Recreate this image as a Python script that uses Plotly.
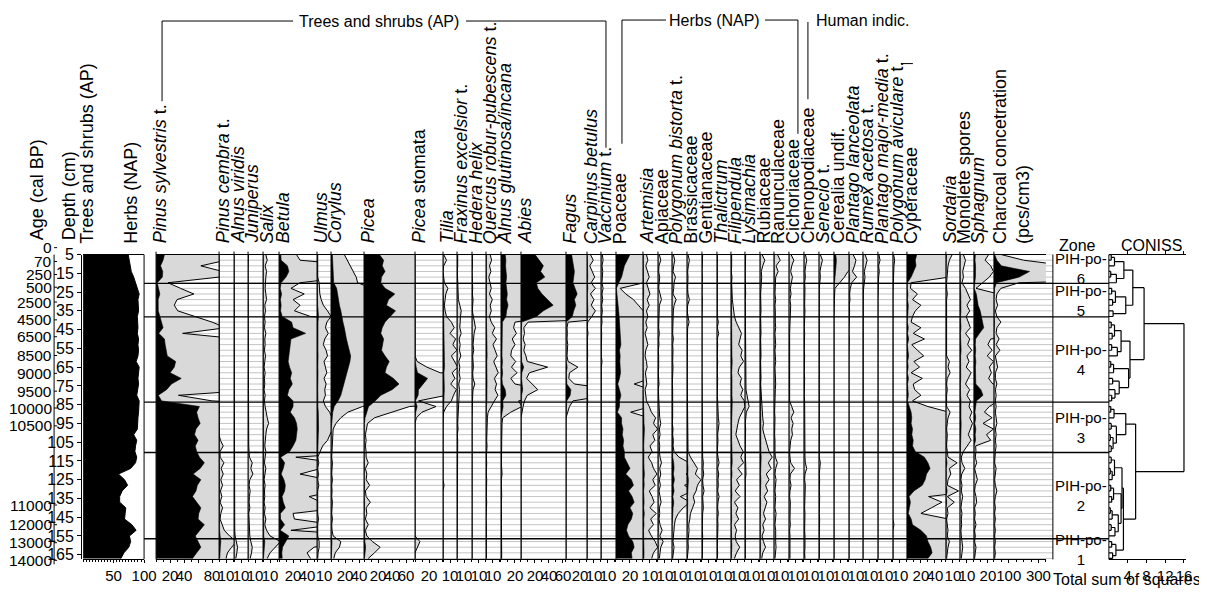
import plotly.graph_objects as go

W, H = 1207, 593          # target picture size
FONT = "Liberation Sans, Arial, Helvetica, sans-serif"
GREY = "#d9d9d9"
LINEGREY = "#c4c4c4"

# ---------------- data ----------------
depth = [5, 8, 11, 14, 17, 20, 23, 26, 29, 32, 35, 38, 41, 44, 47, 50, 53, 56, 59, 62,
         65, 68, 71, 74, 77, 80, 83, 86, 89, 92, 95, 98, 101, 104, 107, 110, 113, 116,
         119, 122, 125, 128, 131, 134, 137, 140, 143, 146, 149, 152, 155, 158, 161, 164, 167]

depth_ticks = [5, 15, 25, 35, 45, 55, 65, 75, 85, 95, 105, 115, 125, 135, 145, 155, 165]
age_labels = ["0", "70", "250", "500", "2500", "4500", "6500", "8500", "9000", "9500",
              "10000", "10500", "11000", "12000", "13000", "14000"]
age_depths = [1.3, 8.7, 15.6, 22.4, 30.3, 39.8, 48.8, 58.8, 68.3, 77.8, 86.8, 96.3,
              138.5, 149.0, 158.6, 168.0]

zone_bounds = [20.3, 38.2, 83.6, 110.5, 156.5]
zone_names = ["6", "5", "4", "3", "2", "1"]

trees_shrubs_ap = [74, 76, 78, 79, 83, 86,
                   90, 92, 90, 90, 91, 89,
                   90, 90, 89, 91, 90, 91, 90, 87, 92, 91, 90, 91, 90, 88, 92,
                   92, 91, 90, 90, 89, 83, 88, 86, 85,
                   88, 86, 78, 58, 68, 73, 64, 60, 60, 70, 69, 68, 80, 87, 76,
                   78, 75, 67, 62]

pinus_sylvestris = [12, 10, 6.4, 9.5, 9, 1.7,
                    3.5, 5.4, 3.0, 2.6, 3.1, 5.5,
                    8, 10, 3.8, 12, 13, 14, 16, 28, 26, 20, 36, 22, 15, 3.2, 8,
                    62, 58, 60, 63, 57, 55, 60, 56, 58,
                    62, 69, 63, 53, 64, 59, 57, 52, 58, 64, 61, 60, 69, 63, 56,
                    60, 64, 58, 52]
pinus_cembra = [0, 0, 0.1, 0, 0, 0,
                0, 0, 0, 0.1, 0, 0,
                0.05, 0, 0, 0.1, 0, 0, 0.05, 0, 0, 0, 0.05, 0, 0, 0, 0,
                0, 0, 0, 0, 0, 0, 0.2, 0.6, 0.15,
                0.15, 0.7, 0.3, 0.6, 0.25, 0.5, 0.2, 0.4, 0.15, 0.5, 0.25, 0.15, 0.4, 0.75, 1.5,
                2.5, 1.8, 1.2, 1.0]
alnus_viridis = [0, 0, 0, 0.05, 0, 0,
                 0, 0.05, 0, 0, 0, 0,
                 0, 0, 0.05, 0, 0, 0, 0, 0.05, 0, 0, 0, 0, 0, 0, 0,
                 0, 0, 0, 0, 0, 0, 0, 0, 0,
                 0, 0.05, 0, 0, 0.1, 0, 0, 0, 0.05, 0, 0, 0, 0, 0.1, 0.15,
                 0.3, 0.5, 0.4, 0.25]
juniperus = [0.05, 0, 0, 0, 0, 0,
             0, 0, 0, 0, 0, 0,
             0, 0, 0, 0, 0, 0, 0, 0, 0, 0, 0, 0, 0, 0, 0,
             0, 0, 0, 0, 0, 0, 0, 0.1, 0.15,
             0.2, 0.6, 0.4, 0.7, 0.25, 0.15, 0.3, 0.2, 0.15, 0.25, 0.1, 0.15, 0.2, 0.15, 0.25,
             0.4, 0.6, 0.5, 0.3]
salix = [0.4, 0.6, 0.3, 0.5, 0.4, 0.3,
         0.3, 0.4, 0.5, 0.25, 0.35, 0.2,
         0.3, 0.2, 0.4, 0.25, 0.3, 0.2, 0.35, 0.25, 0.15, 0.3, 0.2, 0.25, 0.15, 0.3, 0.2,
         0.3, 0.4, 0.6, 0.8, 0.5, 0.4, 0.3, 0.25, 0.4,
         0.3, 0.2, 0.4, 0.25, 0.15, 0.3, 0.2, 0.25, 0.15, 0.3, 0.2, 0.4, 0.25, 0.5, 1.0,
         2.5, 1.8, 1.0, 0.6]
betula = [2.5, 3, 12, 14, 10, 3,
          1.7, 3.6, 2.0, 3.0, 2.2, 4.5,
          18, 20, 38, 17, 16, 15, 14, 13, 15, 18, 16, 19, 14, 12, 20,
          20, 16, 22, 25, 26, 25, 24, 20, 15,
          2.4, 8, 6, 3, 7, 9, 8, 4.3, 6, 9, 2, 2.2, 8, 1.7, 14,
          10, 5, 4, 4.5]
ulmus = [0.1, 0.1, 0.2, 0.2, 0.1, 0.3,
         0.3, 0.4, 0.6, 0.9, 1.5, 2.0,
         1.4, 1.2, 1.6, 1.1, 0.9, 1.3, 1.5, 1.0, 1.2, 1.4, 1.0, 1.3, 1.1, 1.2, 0.9,
         1.2, 1.8, 2.2, 2.5, 2.2, 1.8, 1.5, 0.8, 0.4,
         0.1, 0.25, 0.1, 0.2, 0.1, 0.25, 0.1, 0.1, 0.15, 0.1, 0.1, 0.2, 0.1, 0.1, 0.1,
         0.3, 0.3, 0.15, 0.1]
corylus = [1.9, 2.3, 2.8, 3.2, 3.6, 3.8,
           8, 9, 10, 12, 14, 15,
           17, 19, 20, 22, 24, 26, 28, 27, 25, 22, 20, 18, 16, 14, 10,
           4.5, 2.4, 1.4, 0.7, 0.3, 0.25, 0.2, 0.15, 0.2,
           0.1, 0.2, 0.1, 0.1, 0.2, 0.1, 0.15, 0.1, 0.2, 0.1, 0.1, 0.2, 0.1, 0.15, 0.3,
           1.4, 1.2, 0.6, 0.4]
picea = [22, 28, 26, 30, 25, 24,
         30, 44, 35, 32, 45, 38,
         30, 26, 24, 28, 26, 25, 30, 36, 32, 30, 42, 50, 40, 24, 16,
         6.5, 4.0, 1.5, 0.5, 0.3, 0.2, 0.3, 0.2, 0.3,
         0.3, 0.6, 0.2, 0.4, 0.3, 0.8, 0.2, 0.3, 0.9, 0.3, 0.4, 0.2, 0.6, 0.2, 0.4,
         1.2, 2.3, 1.5, 0.6]
picea_stomata = [0, 0, 0, 0, 0, 0,
                 0, 0, 0, 0, 0, 0,
                 0, 0, 0, 0, 0, 0, 0, 0.3, 1.7, 3.6, 18, 12, 5, 4.5, 0.5,
                 3.0, 1.0, 0.2, 0, 0, 0, 0, 0, 0,
                 0, 0, 0, 0, 0, 0, 0, 0, 0, 0, 0, 0, 0, 0, 0,
                 0.7, 0.4, 0, 0]
tilia = [0.1, 0.5, 0.1, 0, 0.1, 0.2,
         0.7, 0.4, 0.3, 0.2, 0.3, 0.5,
         1.2, 1.6, 1.0, 1.8, 1.4, 2.0, 1.2, 1.6, 2.1, 1.3, 1.7, 1.1, 1.9, 1.5, 1.2,
         0.5, 0.1, 0, 0, 0, 0, 0, 0.1, 0,
         0.1, 0, 0.1, 0, 0, 0.15, 0, 0, 0, 0.1, 0, 0, 0, 0, 0,
         0, 0, 0, 0]
fraxinus = [0.1, 0.15, 0.1, 0.05, 0.1, 0.15,
            0.15, 0.25, 0.2, 0.4, 0.6, 0.5,
            0.5, 0.4, 0.6, 0.3, 0.45, 0.35, 0.55, 0.25, 0.4, 0.3, 0.45, 0.25, 0.35, 0.3, 0.2,
            0.15, 0.1, 0.15, 0.1, 0.15, 0.05, 0.1, 0.1, 0.05,
            0.05, 0.1, 0.05, 0, 0.05, 0.1, 0.05, 0, 0.05, 0.05, 0, 0.05, 0.05, 0, 0.05,
            0.05, 0, 0.05, 0]
hedera = [0.05, 0.1, 0.05, 0, 0.05, 0.05,
          0.1, 0.05, 0.15, 0.1, 0.05, 0.2,
          0.4, 0.5, 0.3, 0.2, 0.15, 0.25, 0.1, 0.15, 0.2, 0.1, 0.15, 0.4, 0.15, 0.1, 0.05,
          0, 0, 0, 0, 0, 0, 0, 0, 0,
          0, 0, 0, 0, 0, 0, 0, 0, 0, 0, 0, 0, 0, 0, 0,
          0, 0, 0, 0]
quercus = [0.6, 0.8, 0.5, 0.7, 0.4, 0.6,
           0.75, 0.5, 0.9, 0.6, 0.75, 0.5,
           0.75, 1.25, 0.9, 1.5, 1.0, 1.3, 1.6, 1.1, 1.4, 1.75, 1.2, 1.5, 1.3, 1.7, 1.2,
           0.75, 0.3, 0.2, 0.15, 0.15, 0.1, 0.1, 0.15, 0.05,
           0.05, 0.1, 0.05, 0.05, 0.1, 0.05, 0, 0.05, 0.1, 0.05, 0.05, 0, 0.05, 0.05, 0.1,
           0.1, 0.05, 0.1, 0.05]
alnus_glutinosa = [6, 7, 6.5, 7, 8, 7,
                   8, 9, 8, 10, 8, 7,
                   2.0, 1.8, 2.2, 1.6, 2.0, 1.5, 1.4, 2.1, 1.5, 2.3, 1.4, 2.0, 6, 7, 2.5,
                   3.0, 1.4, 0.25, 0.15, 0.1, 0.1, 0.1, 0.1, 0.05,
                   0.1, 0.05, 0.1, 0.15, 0.05, 0.1, 0.05, 0.1, 0.05, 0.05, 0.1, 0.05, 0.1, 0.05, 0.1,
                   0.15, 0.1, 0.05, 0.1]
abies = [20, 26, 32, 28, 34, 22,
         24, 30, 38, 46, 32, 22,
         1.0, 0.4, 0.5, 0.3, 0.6, 0.4, 0.7, 0.9, 3.8, 1.2, 0.8, 1.6, 2.4, 0.9, 0.5,
         0.3, 0.1, 0, 0, 0, 0, 0, 0, 0,
         0, 0, 0, 0, 0, 0, 0, 0, 0, 0, 0, 0, 0, 0, 0,
         0, 0, 0, 0]
fagus = [8, 9, 10, 12, 11, 10,
         13, 16, 12, 14, 11, 9,
         0.3, 0.15, 0.2, 0.15, 0.25, 0.2, 0.15, 0.3, 1.7, 0.5, 0.4, 1.2, 7, 6, 1.0,
         0.5, 0.2, 0, 0, 0, 0, 0, 0, 0,
         0, 0, 0, 0, 0, 0, 0, 0, 0, 0, 0, 0, 0, 0, 0,
         0, 0, 0, 0]
carpinus = [0.5, 0.9, 0.4, 0.7, 1.1, 0.6,
            1.2, 0.5, 1.0, 0.6, 1.2, 0.7,
            0.1, 0.05, 0.15, 0.05, 0.1, 0.05, 0.1, 0.05, 0.1, 0.05, 0.1, 0.05, 0.1, 0.15, 0.1,
            0.05, 0, 0, 0, 0, 0, 0, 0, 0,
            0, 0, 0, 0, 0, 0, 0, 0, 0, 0, 0, 0, 0, 0, 0,
            0, 0, 0, 0]
vaccinium = [0.2, 0.3, 0.15, 0.25, 0.2, 0.15,
             0.3, 0.15, 0.25, 0.1, 0.2, 0.1,
             0.15, 0.05, 0.1, 0.05, 0.1, 0.05, 0.05, 0.15, 0.05, 0.05, 0.1, 0.05, 0.05, 0.1, 0.05,
             0.05, 0.05, 0, 0.1, 0.05, 0, 0, 0.05, 0,
             0, 0, 0.05, 0, 0, 0.1, 0, 0.05, 0, 0, 0, 0.05, 0, 0, 0,
             0, 0.05, 0, 0]
poaceae = [20, 16, 12, 10, 8, 4,
           0.6, 1.4, 2.5, 3.2, 3.8, 4.5,
           5, 6, 5.5, 6, 7, 5, 6, 5.5, 6, 6.5, 5, 2.6, 5, 7, 5,
           5, 2.1, 8, 8, 10, 9, 11, 10, 12,
           12, 16, 20, 14, 22, 25, 18, 23, 26, 20, 24, 22, 17, 15, 18,
           24, 26, 22, 23]
artemisia = [0.5, 0.7, 0.4, 0.6, 0.9, 0.5,
             0.8, 1.0, 0.6, 0.9, 0.5, 0.7,
             0.4, 0.6, 0.3, 0.5, 0.7, 0.4, 0.3, 0.5, 0.6, 0.35, 0.45, 0.55, 0.3, 0.4, 0.5,
             0.9, 1.2, 1.8, 1.5, 2.1, 1.4, 1.7, 1.0, 1.3,
             0.75, 1.25, 1.5, 2.0, 1.4, 1.75, 0.9, 1.3, 1.6, 1.0, 1.9, 1.1, 1.5, 0.8, 1.2,
             1.75, 2.1, 1.5, 1.25]
apiaceae = [0.2, 0.4, 0.15, 0.1, 0.25, 0.15,
            0.1, 0.3, 0.5, 0.2, 0.15, 0.1,
            0.15, 0.1, 0.2, 0.1, 0.15, 0.05, 0.1, 0.15, 0.1, 0.05, 0.1, 0.15, 0.05, 0.1, 0.05,
            0.1, 0.15, 0.25, 0.4, 0.2, 0.3, 0.15, 0.25, 0.2,
            0.3, 0.5, 0.25, 0.4, 0.2, 0.35, 0.15, 0.3, 0.45, 0.2, 0.25, 0.15, 0.3, 0.6, 0.25,
            0.75, 0.4, 0.3, 0.2]
polygonum_bistorta = [0.2, 0.4, 0.25, 0.15, 0.5, 0.3,
                      0.25, 0.15, 0.6, 0.3, 0.2, 0.15,
                      0.1, 0.15, 0.1, 0.2, 0.1, 0.15, 0.1, 0.1, 0.15, 0.1, 0.1, 0.05, 0.1, 0.05, 0.1,
                      0.1, 0.15, 0.1, 0.05, 0.15, 0.1, 0.2, 0.15, 0.3,
                      1.0, 2.5, 3.0, 2.0, 3.5, 1.8, 3.0, 1.2, 2.6, 1.6, 0.9, 0.5, 0.35, 0.3, 0.2,
                      0.15, 0.3, 0.2, 0.1]
brassicaceae = [0.15, 0.35, 0.2, 0.1, 0.15, 0.1,
                0.1, 0.15, 0.35, 0.1, 0.05, 0.15,
                0.3, 0.1, 0.05, 0.1, 0.05, 0.05, 0.1, 0.05, 0.05, 0.1, 0.05, 0.05, 0.05, 0.1, 0.05,
                0.05, 0.1, 0.05, 0.1, 0.05, 0.05, 0.1, 0.05, 0.15,
                0.5, 1.0, 1.5, 1.2, 2.0, 1.5, 1.3, 0.9, 1.1, 0.8, 0.5, 0.4, 0.25, 0.3, 0.2,
                0.15, 0.2, 0.1, 0.05]
gentianaceae = [0.1, 0.05, 0.05, 0, 0.05, 0,
                0.05, 0, 0.05, 0, 0.05, 0,
                0, 0.05, 0, 0, 0.05, 0, 0, 0.05, 0, 0, 0, 0.05, 0, 0, 0,
                0.05, 0, 0.05, 0, 0, 0.05, 0, 0, 0.05,
                0.1, 0.2, 0.15, 0.25, 0.1, 0.15, 0.3, 0.1, 0.15, 0.2, 0.1, 0.05, 0.1, 0.05, 0.1,
                0.1, 0.15, 0.05, 0.05]
thalictrum = [0.05, 0.1, 0.05, 0.05, 0, 0.05,
              0.05, 0.05, 0.1, 0.05, 0.05, 0.05,
              0.2, 0.05, 0.25, 0.05, 0.1, 0.05, 0.05, 0.1, 0.05, 0.05, 0.1, 0.05, 0.05, 0.05, 0.1,
              0.1, 0.15, 0.2, 0.3, 0.15, 0.1, 0.15, 0.1, 0.05,
              0.15, 0.3, 0.1, 0.25, 0.15, 0.2, 0.1, 0.3, 0.15, 0.1, 0.2, 0.1, 0.15, 0.1, 0.05,
              0.1, 0.05, 0.1, 0.05]
filipendula = [0.1, 0.15, 0.1, 0.05, 0.15, 0.1,
               0.1, 0.15, 0.2, 0.3, 0.4, 0.5,
               0.75, 1.1, 1.5, 1.3, 1.1, 1.6, 1.4, 1.8, 1.2, 1.0, 1.5, 1.3, 1.7, 1.4, 1.9,
               2.0, 1.6, 1.2, 1.0, 0.8, 0.7, 1.0, 1.3, 1.75,
               1.4, 1.8, 1.0, 1.6, 0.8, 1.2, 0.6, 1.3, 0.5, 1.0, 0.7, 1.1, 0.5, 0.8, 0.6,
               0.75, 1.25, 0.8, 0.5]
lysimachia = [0.1, 0.05, 0.1, 0.05, 0.05, 0.1,
              0.05, 0.1, 0.05, 0.05, 0.1, 0.05,
              0.1, 0.05, 0.05, 0.1, 0.05, 0.1, 0.05, 0.05, 0.1, 0.05, 0.1, 0.05, 0.15, 0.3, 0.4,
              0.6, 0.2, 0.1, 0.05, 0.1, 0.05, 0.1, 0.05, 0.05,
              0.1, 0.05, 0.1, 0.15, 0.05, 0.1, 0.05, 0.05, 0.1, 0.05, 0.05, 0.1, 0.05, 0.05, 0.05,
              0.05, 0.1, 0.05, 0.05]
rubiaceae = [0.3, 0.7, 0.4, 0.2, 0.25, 0.15,
             0.15, 0.1, 0.15, 0.1, 0.15, 0.1,
             0.15, 0.1, 0.15, 0.1, 0.15, 0.1, 0.15, 0.1, 0.15, 0.1, 0.15, 0.1, 0.15, 0.1, 0.15,
             0.2, 0.3, 0.4, 0.5, 0.4, 0.6, 0.8, 1.0, 1.3,
             1.75, 1.2, 1.6, 0.9, 1.3, 0.8, 1.1, 0.6, 1.0, 0.7, 0.5, 0.8, 0.4, 0.6, 0.3,
             0.5, 0.8, 0.4, 0.25]
ranunculaceae = [0.5, 0.9, 0.3, 0.6, 0.25, 0.2,
                 0.2, 0.15, 0.25, 0.15, 0.2, 0.15,
                 0.2, 0.25, 0.15, 0.2, 0.25, 0.15, 0.2, 0.25, 0.15, 0.2, 0.15, 0.25, 0.2, 0.15, 0.2,
                 0.15, 0.1, 0.15, 0.1, 0.15, 0.1, 0.15, 0.1, 0.15,
                 0.2, 0.5, 0.25, 0.15, 0.3, 0.2, 0.15, 0.25, 0.2, 0.15, 0.3, 0.2, 0.15, 0.25, 0.2,
                 0.25, 0.3, 0.2, 0.15]
cichoriaceae = [0.3, 0.7, 0.4, 0.25, 0.5, 0.3,
                0.2, 0.3, 0.15, 0.25, 0.2, 0.15,
                0.1, 0.15, 0.1, 0.1, 0.15, 0.1, 0.1, 0.15, 0.1, 0.1, 0.15, 0.1, 0.1, 0.15, 0.1,
                0.4, 0.7, 0.3, 0.6, 0.4, 0.5, 0.25, 0.15, 0.1,
                0.15, 0.25, 0.8, 0.2, 0.15, 0.3, 0.15, 0.1, 0.2, 0.15, 0.1, 0.15, 0.2, 0.1, 0.15,
                0.15, 0.2, 0.1, 0.15]
chenopodiaceae = [0.2, 0.4, 0.25, 0.15, 0.2, 0.1,
                  0.15, 0.1, 0.15, 0.1, 0.15, 0.1,
                  0.1, 0.05, 0.1, 0.05, 0.1, 0.05, 0.1, 0.05, 0.1, 0.05, 0.1, 0.05, 0.1, 0.05, 0.1,
                  0.1, 0.05, 0.1, 0.05, 0.1, 0.05, 0.1, 0.05, 0.1,
                  0.15, 0.2, 0.4, 0.15, 0.1, 0.2, 0.15, 0.1, 0.15, 0.1, 0.15, 0.1, 0.15, 0.1, 0.15,
                  0.2, 0.15, 0.1, 0.15]
senecio = [0.2, 0.5, 0.3, 0.15, 0.2, 0.1,
           0.05, 0.05, 0.05, 0.05, 0.05, 0.05,
           0.05, 0, 0.05, 0, 0.05, 0, 0.05, 0, 0.05, 0, 0.05, 0, 0.05, 0, 0.05,
           0, 0.05, 0, 0.05, 0, 0.05, 0, 0.05, 0,
           0.05, 0.2, 0.1, 0.05, 0.1, 0.05, 0.05, 0.1, 0.05, 0.05, 0.05, 0.1, 0.05, 0.05, 0.05,
           0.05, 0.05, 0.05, 0.05]
cerealia = [2.5, 3.5, 3.0, 2.0, 1.5, 0.8,
            0.15, 0.1, 0.05, 0, 0.05, 0,
            0, 0, 0, 0, 0, 0, 0, 0, 0, 0, 0, 0, 0, 0, 0,
            0, 0, 0, 0, 0, 0, 0, 0, 0,
            0, 0, 0, 0, 0, 0, 0, 0, 0, 0, 0, 0, 0, 0, 0,
            0, 0, 0, 0]
plantago_lanceolata = [0.6, 1.0, 0.8, 0.5, 1.1, 0.4,
                       0.2, 0.1, 0.15, 0.05, 0.1, 0.05,
                       0.05, 0, 0, 0.05, 0, 0, 0, 0, 0.05, 0, 0, 0, 0, 0, 0,
                       0, 0, 0, 0, 0, 0, 0, 0, 0,
                       0, 0, 0, 0, 0, 0, 0, 0, 0, 0, 0.1, 0, 0, 0, 0,
                       0, 0, 0, 0]
rumex_acetosa = [0.3, 0.6, 0.4, 0.2, 0.3, 0.15,
                 0.1, 0.05, 0.1, 0.05, 0.05, 0.05,
                 0.05, 0, 0.05, 0, 0, 0.05, 0, 0, 0.05, 0, 0, 0, 0.05, 0, 0,
                 0, 0, 0.05, 0, 0, 0, 0, 0, 0,
                 0, 0.05, 0, 0, 0, 0, 0.05, 0, 0, 0, 0, 0, 0.05, 0, 0,
                 0, 0, 0, 0]
plantago_major = [0.15, 0.3, 0.1, 0.2, 0.1, 0.05,
                  0.05, 0, 0, 0, 0, 0,
                  0, 0, 0, 0, 0, 0, 0, 0, 0, 0, 0, 0, 0, 0, 0,
                  0, 0, 0, 0, 0, 0, 0, 0, 0,
                  0, 0, 0, 0, 0, 0, 0, 0, 0, 0, 0, 0, 0, 0, 0,
                  0, 0, 0, 0]
polygonum_aviculare = [0.1, 0.25, 0.15, 0.1, 0.05, 0,
                       0, 0, 0, 0, 0, 0,
                       0, 0, 0, 0, 0, 0, 0, 0, 0, 0, 0, 0, 0, 0, 0,
                       0, 0, 0, 0, 0, 0, 0, 0, 0,
                       0, 0, 0, 0, 0, 0, 0, 0, 0, 0, 0, 0, 0.15, 0, 0,
                       0, 0, 0, 0]
cyperaceae = [14, 12, 13, 10, 6, 0.6,
              0.5, 1.5, 0.8, 2.0, 1.2, 0.8,
              0.6, 2.0, 0.9, 2.5, 0.7, 1.5, 2.4, 1.0, 1.8, 0.6, 2.2, 0.9, 1.1, 2.0, 0.8,
              3, 6, 7, 6, 8, 7, 9, 8, 12,
              25, 30, 33, 28, 26, 22, 10, 3.1, 5, 3.5, 2.0, 6, 8, 20, 28,
              30, 34, 36, 30]
sordaria = [0.9, 0.5, 0.3, 0.2, 0.1, 0.1,
            0.1, 0.2, 0.1, 0.1, 0.2, 0.1,
            0.2, 0.1, 0.2, 0.1, 0.1, 0.2, 0.1, 0.5, 0.3, 0.6, 0.2, 0.1, 0.2, 0.1, 0.1,
            0.1, 0.6, 0.3, 0.2, 0.1, 0.2, 0.1, 0.1, 0.2,
            0.3, 1.6, 0.5, 0.7, 0.3, 0.2, 1.8, 0.2, 1.2, 0.2, 0.3, 0.1, 0.2, 0.3, 0.2,
            0.5, 0.3, 0.2, 0.1]
monolete_spores = [0.5, 0.8, 0.6, 0.4, 0.5, 0.3,
                   0.8, 1.2, 1.5, 1.0, 1.4, 0.9,
                   1.25, 1.5, 0.8, 1.4, 1.1, 1.7, 1.0, 1.3, 0.9, 1.6, 1.2, 0.8, 1.4, 1.0, 1.5,
                   1.3, 1.7, 1.4, 1.8, 1.5, 1.2, 1.6, 1.0, 0.5,
                   0.2, 0.3, 0.7, 0.25, 0.15, 0.3, 0.2, 0.4, 0.25, 0.15, 0.3, 0.2, 0.25, 0.15, 0.2,
                   0.25, 0.4, 0.3, 0.2]
sphagnum = [2.1, 1.6, 2.4, 2.8, 2.2, 1.2,
            0.3, 3.5, 5, 6, 9, 11,
            12, 14, 8, 2.4, 2.0, 2.6, 1.9, 2.8, 2.2, 2.5, 2.1, 2.7, 10, 13, 3.5,
            2.2, 1.5, 2.6, 1.3, 2.8, 1.8, 2.4, 0.25, 0.3,
            0.2, 0.4, 0.1, 0.3, 0.5, 0.2, 0.1, 0.3, 0.4, 0.1, 0.2, 0.1, 0.3, 0.1, 0.2,
            0.1, 0.3, 0.2, 0.1]
charcoal = [5, 20, 50, 240, 170, 17,
            4.7, 2, 1.5, 2.5, 1, 2,
            4.7, 2, 1.5, 3.5, 1.5, 4, 1, 1.5, 2.5, 1, 1, 2, 1, 1.5, 1,
            1.5, 1, 1.5, 2, 1, 1.5, 1, 1.5, 1,
            1, 0.5, 1.5, 1, 0.5, 1, 2, 1, 0.5, 1, 0.5, 1, 0.5, 1, 0.5,
            1, 0.5, 1, 0.5]

# CONISS tree: [height, left, right]; leaves are sample indices
z6 = [3.2, [1.2, [0.5, 0, 1], 2], [1.6, [0.4, 3, 4], 5]]
z5 = [3.6, [1.4, [0.6, 6, 7], [0.8, 8, 9]], [0.9, 10, 11]]
z4 = [4.5, [2.6, [1.2, [0.5, 12, 13], [0.7, 14, 15]], [1.8, [0.6, 16, 17], 18]],
      [4.2, [1.0, [0.4, 19, 20], 21], [2.2, [0.8, 22, 23], [1.3, 24, [0.6, 25, 26]]]]]
z3 = [3.6, [1.1, [0.4, 27, 28], 29], [1.6, [0.5, 30, 31], [0.9, [0.3, 32, 33], [0.5, 34, 35]]]]
z2 = [2.8, [1.2, [0.5, 36, 37], [0.7, [0.3, 38, 39], 40]],
      [2.6, [1.0, [0.4, 41, 42], [0.6, 43, 44]], [2.0, [0.7, [0.3, 45, 46], 47], [1.3, [0.5, 48, 49], 50]]]]
z1 = [1.5, [0.6, 51, 52], [0.8, 53, 54]]
coniss = [16.0, [7.5, [5.1, z6, z5], z4], [5.7, z3, [3.1, z2, z1]]]

# tick labels of the Pinus sylvestris panel (the 60 tick carries no label)
pinus_ticks = [20, 40, 60, 80]
pinus_ticktext = ["20", "40", "", "80"]

# ---------------- panels (label, left px, right px, values, ticks) ----------------
panels = [
    ("<i>Pinus sylvestris</i> t.", 155, 218, pinus_sylvestris, pinus_ticks),
    ("<i>Pinus cembra</i> t.", 218, 233, pinus_cembra, [10]),
    ("<i>Alnus viridis</i>", 233, 247, alnus_viridis, [10]),
    ("<i>Juniperus</i>", 247, 262, juniperus, [10]),
    ("<i>Salix</i>", 262, 278, salix, [10]),
    ("<i>Betula</i>", 278, 316, betula, [20, 40]),
    ("<i>Ulmus</i>", 316, 330, ulmus, [10]),
    ("<i>Corylus</i>", 330, 363, corylus, [20, 40]),
    ("<i>Picea</i>", 363, 414, picea, [20, 40, 60]),
    ("<i>Picea</i> stomata", 414, 442, picea_stomata, [20]),
    ("<i>Tilia</i>", 442, 456, tilia, [10]),
    ("<i>Fraxinus excelsior</i> t.", 456, 471, fraxinus, [10]),
    ("<i>Hedera helix</i>", 471, 485, hedera, [10]),
    ("<i>Quercus robur-pubescens</i> t.", 485, 500, quercus, [10]),
    ("<i>Alnus glutinosa/incana</i>", 500, 520, alnus_glutinosa, [20]),
    ("<i>Abies</i>", 520, 565, abies, [20, 40, 60]),
    ("<i>Fagus</i>", 565, 586, fagus, [20]),
    ("<i>Carpinus betulus</i>", 586, 600, carpinus, [10]),
    ("<i>Vaccinium</i> t.", 600, 615, vaccinium, [10]),
    ("Poaceae", 615, 642, poaceae, [20]),
    ("<i>Artemisia</i>", 642, 657, artemisia, [10]),
    ("Apiaceae", 657, 671, apiaceae, [10]),
    ("<i>Polygonum bistorta</i> t.", 671, 686, polygonum_bistorta, [10]),
    ("Brassicaceae", 686, 701, brassicaceae, [10]),
    ("Gentianaceae", 701, 716, gentianaceae, [10]),
    ("<i>Thalictrum</i>", 716, 730, thalictrum, [10]),
    ("<i>Filipendula</i>", 730, 744, filipendula, [10]),
    ("<i>Lysimachia</i>", 744, 759, lysimachia, [10]),
    ("Rubiaceae", 759, 773, rubiaceae, [10]),
    ("Ranunculaceae", 773, 788, ranunculaceae, [10]),
    ("Cichoriaceae", 788, 803, cichoriaceae, [10]),
    ("Chenopodiaceae", 803, 818, chenopodiaceae, [10]),
    ("<i>Senecio</i> t.", 818, 833, senecio, [10]),
    ("Cerealia undif.", 833, 848, cerealia, [10]),
    ("<i>Plantago lanceolata</i>", 848, 862, plantago_lanceolata, [10]),
    ("<i>Rumex acetosa</i> t.", 862, 877, rumex_acetosa, [10]),
    ("<i>Plantago major-media</i> t.", 877, 892, plantago_major, [10]),
    ("<i>Polygonum aviculare</i> t.", 892, 906, polygonum_aviculare, [10]),
    ("Cyperaceae", 906, 945, cyperaceae, [20, 40]),
    ("<i>Sordaria</i>", 945, 959, sordaria, [10]),
    ("Monolete spores", 959, 973, monolete_spores, [10]),
    ("<i>Sphagnum</i>", 973, 993, sphagnum, [20]),
]
charcoal_panel = (993, 1045, 350.0, [100, 300])

for name, arr in [("ap", trees_shrubs_ap), ("charcoal", charcoal)] + [(p[0], p[3]) for p in panels]:
    assert len(arr) == len(depth), (name, len(arr))

PX_PER_PCT = 0.7
EXAG = 10

# ---------------- helpers ----------------
# Positions are given in picture pixels; the page body margin (8 px) and the
# slight scaling observed between page and picture are compensated here.
OFF = 8
FIG_W = W
FIG_H = H
SX = 0.9886
SY, AY = 0.99, 6.0


def fx(x):
    return (x / SX - OFF) / FIG_W


def fy(y):
    return 1 - ((y - AY) / SY - OFF) / FIG_H


Y_TOP, Y_BOT = 255, 563
D_TOP, D_BOT = 5, 167.5


def depth_py(d):
    return fy(Y_TOP + (d - D_TOP) / (D_BOT - D_TOP) * (Y_BOT - Y_TOP))


fig = go.Figure()
layout = dict(width=FIG_W, height=FIG_H, margin=dict(l=0, r=0, t=0, b=0), autosize=False,
              paper_bgcolor="white", plot_bgcolor="rgba(0,0,0,0)", showlegend=False,
              font=dict(family=FONT, color="black", size=15))
layout["yaxis"] = dict(domain=[fy(Y_BOT), fy(Y_TOP)], range=[D_BOT, D_TOP], anchor="free",
                       position=fx(80), side="left", showline=True, linecolor="black",
                       linewidth=1, ticks="outside", ticklen=4, tickcolor="black",
                       tickvals=depth_ticks, ticktext=[str(v) for v in depth_ticks],
                       tickfont=dict(size=16), showgrid=False, zeroline=False, fixedrange=True)


def xaxis(x0, x1, rng, tickvals, minor_dtick, ticktext=None):
    ax = dict(domain=[fx(x0), fx(x1)], range=rng, anchor="y", showline=True,
              linecolor="black", linewidth=1, mirror=True, ticks="outside", ticklen=3,
              tickcolor="black", tickvals=tickvals,
              ticktext=ticktext if ticktext else [str(t) for t in tickvals],
              tickangle=0, tickfont=dict(size=15),
              showgrid=False, zeroline=False, fixedrange=True)
    if minor_dtick:
        ax["minor"] = dict(ticks="outside", ticklen=2, dtick=minor_dtick, tickcolor="black",
                           showgrid=False)
    return ax


shapes = []
annotations = []


def pline(x0, y0, x1, y1, width=1, color="black", layer="above"):
    shapes.append(dict(type="line", xref="paper", yref="paper", x0=fx(x0), x1=fx(x1),
                       y0=fy(y0), y1=fy(y1), line=dict(color=color, width=width), layer=layer))


def dline(x0, x1, d, width=1, color="black", layer="above"):
    shapes.append(dict(type="line", xref="paper", yref="y", x0=fx(x0), x1=fx(x1),
                       y0=d, y1=d, line=dict(color=color, width=width), layer=layer))


def vlabel(x, text, y=246, size=18, align="left"):
    annotations.append(dict(x=fx(x), y=fy(y), xref="paper", yref="paper", text=text,
                            textangle=-90, xanchor="center", yanchor="bottom",
                            showarrow=False, font=dict(size=size), align=align))


def hlabel(x, y, text, size=18, xanchor="center"):
    annotations.append(dict(x=fx(x), y=fy(y), xref="paper", yref="paper", text=text,
                            xanchor=xanchor, yanchor="middle", showarrow=False,
                            font=dict(size=size)))


# sample level lines (below everything)
for d in depth:
    dline(155, 1052, d, width=1, color=LINEGREY, layer="below")

# ---------------- summary panel ----------------
layout["xaxis"] = xaxis(82, 143, [0, 100], [50, 100], 5)
fig.add_trace(go.Scatter(x=trees_shrubs_ap, y=depth, xaxis="x", yaxis="y", mode="lines",
                         fill="tozerox", fillcolor="black", line=dict(color="black", width=1),
                         hoverinfo="skip"))
pline(143, Y_TOP, 143, Y_BOT)

# ---------------- taxon panels ----------------
ax_i = 2
for label, x0, x1, vals, ticks in panels:
    rmax = (x1 - x0) / PX_PER_PCT
    ttext = pinus_ticktext if ticks is pinus_ticks else None
    layout[f"xaxis{ax_i}"] = xaxis(x0, x1, [0, rmax], ticks, 10, ttext)
    ref = f"x{ax_i}"
    fig.add_trace(go.Scatter(x=[v * EXAG for v in vals], y=depth, xaxis=ref, yaxis="y",
                             mode="lines", fill="tozerox", fillcolor=GREY,
                             line=dict(color="black", width=1), hoverinfo="skip"))
    fig.add_trace(go.Scatter(x=vals, y=depth, xaxis=ref, yaxis="y", mode="lines",
                             fill="tozerox", fillcolor="black",
                             line=dict(color="black", width=0.6), hoverinfo="skip"))
    pline(x0, 252, x0, Y_BOT)
    vlabel(x0 + 4, label)
    ax_i += 1

# charcoal
cx0, cx1, cmax, cticks = charcoal_panel
layout[f"xaxis{ax_i}"] = xaxis(cx0, cx1, [0, cmax], cticks, 50)
ref = f"x{ax_i}"
fig.add_trace(go.Scatter(x=[v * EXAG for v in charcoal], y=depth, xaxis=ref, yaxis="y",
                         mode="lines", fill="tozerox", fillcolor=GREY,
                         line=dict(color="black", width=1), hoverinfo="skip"))
fig.add_trace(go.Scatter(x=charcoal, y=depth, xaxis=ref, yaxis="y", mode="lines",
                         fill="tozerox", fillcolor="black", line=dict(color="black", width=0.6),
                         hoverinfo="skip"))
pline(cx0, 252, cx0, Y_BOT)
vlabel(1010, "Charcoal concetration<br>(pcs/cm3)", align="left")
ax_i += 1

# ---------------- CONISS ----------------
dx, dy = [], []


def walk(node):
    if isinstance(node, int):
        return depth[node], 0.0
    h, left, right = node
    yl, hl = walk(left)
    yr, hr = walk(right)
    dx.extend([hl, h, None, hr, h, None, h, h, None])
    dy.extend([yl, yl, None, yr, yr, None, yl, yr, None])
    return (yl + yr) / 2, h


walk(coniss)
cax = xaxis(1108, 1185, [0, 16.4], [4, 8, 12, 16], None)
cax["mirror"] = "ticks"
layout[f"xaxis{ax_i}"] = cax
fig.add_trace(go.Scatter(x=dx, y=dy, xaxis=f"x{ax_i}", yaxis="y", mode="lines",
                         line=dict(color="black", width=1.2), hoverinfo="skip",
                         cliponaxis=False))
pline(1108, Y_TOP, 1108, Y_BOT)

# zone column
pline(1052, Y_TOP, 1052, Y_BOT)
for zb in zone_bounds:
    dline(143, 1108, zb, width=1.3)
bounds = [D_TOP] + zone_bounds + [D_BOT]
for i, zn in enumerate(zone_names):
    mid = (bounds[i] + bounds[i + 1]) / 2
    annotations.append(dict(x=fx(1080), y=depth_py(mid), xref="paper", yref="paper",
                            text=f"PIH-po-<br>{zn}", showarrow=False, xanchor="center",
                            yanchor="middle", font=dict(size=15)))

# ---------------- age axis ----------------
pline(53, Y_TOP, 53, 568)
for lab, d in zip(age_labels, age_depths):
    yp = depth_py(d)
    annotations.append(dict(x=fx(52), y=yp, xref="paper", yref="paper", text=lab,
                            showarrow=False, xanchor="right", yanchor="middle",
                            font=dict(size=15.5), borderpad=0))
    shapes.append(dict(type="line", xref="paper", yref="paper", x0=fx(53), x1=fx(56),
                       y0=yp, y1=yp, line=dict(color="black", width=1)))

# ---------------- headers ----------------
vlabel(36, "Age (cal BP)", y=243)
vlabel(68, "Depth (cm)", y=243)
vlabel(86, "Trees and shrubs (AP)")
vlabel(130, "Herbs (NAP)")

hlabel(1077, 246, "Zone", size=16)
hlabel(1151, 246, "CONISS", size=16)
hlabel(1126, 583, "Total sum of squares", size=16)

# group brackets
hlabel(378, 19, "Trees and shrubs (AP)", size=16)
pline(161, 100, 161, 19)
pline(161, 19, 292, 19)
pline(465, 19, 605, 19)
pline(605, 19, 605, 147)

hlabel(714, 18, "Herbs (NAP)", size=16)
pline(621, 143, 621, 18)
pline(621, 18, 665, 18)
pline(764, 18, 797, 18)
pline(797, 18, 797, 133)

hlabel(813, 18, "Human indic.", size=16, xanchor="left")
pline(807, 98, 807, 20)
pline(900, 62, 912, 62)

layout["shapes"] = shapes
layout["annotations"] = annotations
fig.update_layout(**layout)
fig.write_html("out.html")
